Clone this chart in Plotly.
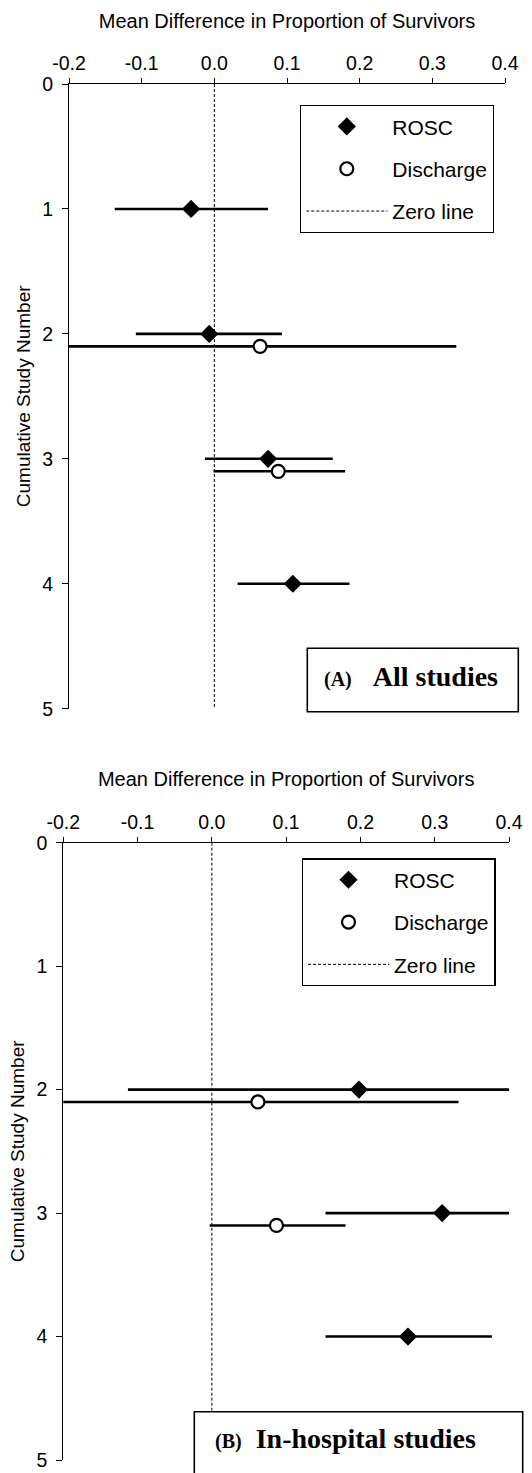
import plotly.graph_objects as go

W, H = 532, 1473

# ---------------- data ----------------
x_tickvals = [-0.2, -0.1, 0.0, 0.1, 0.2, 0.3, 0.4]
x_ticktext = ["-0.2", "-0.1", "0.0", "0.1", "0.2", "0.3", "0.4"]
y_tickvals = [0, 1, 2, 3, 4, 5]

# Panel A: all studies
a_rosc_study = [1, 2, 3, 4]
a_rosc_mean = [-0.032, -0.007, 0.074, 0.108]
a_rosc_lo = [-0.137, -0.108, -0.013, 0.032]
a_rosc_hi = [0.074, 0.093, 0.163, 0.186]

a_dis_study = [2, 3]
a_dis_mean = [0.063, 0.088]
a_dis_lo = [-0.204, -0.001]
a_dis_hi = [0.333, 0.180]

# Panel B: in-hospital studies
b_rosc_study = [2, 3, 4]
b_rosc_mean = [0.198, 0.310, 0.264]
b_rosc_lo = [-0.113, 0.153, 0.153]
b_rosc_hi = [0.42, 0.42, 0.377]

b_dis_study = [2, 3]
b_dis_mean = [0.062, 0.087]
b_dis_lo = [-0.207, -0.003]
b_dis_hi = [0.332, 0.180]

DIS_OFFSET = 0.1  # discharge rows drawn slightly below the study row

SANS = "Liberation Sans, Arial, sans-serif"
SERIF = "Liberation Serif, Times New Roman, serif"


def px(p):
    return p / W


def py(p):
    return 1 - p / H


fig = go.Figure()


def add_panel(xa, ya, leg, rs, rm, rl, rh, ds, dm, dl, dh):
    fig.add_trace(go.Scatter(
        x=rm, y=rs, mode="markers", name="ROSC",
        xaxis=xa, yaxis=ya, legend=leg, legendgroup=leg + "r",
        marker=dict(symbol="diamond", size=14, color="black"),
        error_x=dict(type="data", symmetric=False,
                     array=[h - m for h, m in zip(rh, rm)],
                     arrayminus=[m - l for m, l in zip(rm, rl)],
                     color="black", thickness=2.6, width=0),
    ))
    fig.add_trace(go.Scatter(
        x=dm, y=[s + DIS_OFFSET for s in ds], mode="markers", name="Discharge",
        xaxis=xa, yaxis=ya, legend=leg, legendgroup=leg + "d",
        marker=dict(symbol="circle", size=13, color="white",
                    line=dict(color="black", width=2.2)),
        error_x=dict(type="data", symmetric=False,
                     array=[h - m for h, m in zip(dh, dm)],
                     arrayminus=[m - l for m, l in zip(dm, dl)],
                     color="black", thickness=2.6, width=0),
    ))
    fig.add_trace(go.Scatter(
        x=[0, 0], y=[0, 5], mode="lines", name="Zero line",
        xaxis=xa, yaxis=ya, legend=leg, legendgroup=leg + "z",
        line=dict(color="black", width=1, dash="3px,2px"),
    ))


add_panel("x", "y", "legend", a_rosc_study, a_rosc_mean, a_rosc_lo, a_rosc_hi,
          a_dis_study, a_dis_mean, a_dis_lo, a_dis_hi)
add_panel("x2", "y2", "legend2", b_rosc_study, b_rosc_mean, b_rosc_lo, b_rosc_hi,
          b_dis_study, b_dis_mean, b_dis_lo, b_dis_hi)

xcommon = dict(range=[-0.2, 0.4], tickvals=x_tickvals, ticktext=x_ticktext,
               side="top", ticks="outside", ticklen=5, tickwidth=1.2, tickcolor="black",
               showline=True, linecolor="black", linewidth=1.2,
               showgrid=False, zeroline=False, automargin=False,
               tickfont=dict(family=SANS, size=19.5, color="black"),
               title=dict(text="Mean Difference in Proportion of Survivors",
                          font=dict(family=SANS, size=20, color="black"), standoff=18))
ycommon = dict(range=[5, 0], tickvals=y_tickvals, ticks="outside", ticklen=6,
               tickwidth=1.2, tickcolor="black", ticklabelstandoff=5,
               showline=True, linecolor="black", linewidth=1.2,
               showgrid=False, zeroline=False, automargin=False,
               tickfont=dict(family=SANS, size=19.5, color="black"),
               title=dict(text="Cumulative Study Number",
                          font=dict(family=SANS, size=19, color="black"), standoff=6))

legcommon = dict(bgcolor="white", bordercolor="black", borderwidth=1.3,
                 font=dict(family=SANS, size=21, color="black"),
                 tracegroupgap=12, itemwidth=81, xanchor="left", yanchor="top",
                 traceorder="grouped")

fig.update_layout(
    width=W, height=H, autosize=False,
    margin=dict(l=0, r=0, t=0, b=0),
    paper_bgcolor="white", plot_bgcolor="white",
    showlegend=True,
    xaxis=dict(domain=[px(69), px(505)], anchor="y", **xcommon),
    yaxis=dict(domain=[py(708.7), py(84)], anchor="x", **ycommon),
    xaxis2=dict(domain=[px(63.3), px(509)], anchor="y2", **xcommon),
    yaxis2=dict(domain=[py(1460), py(842.7)], anchor="x2", **ycommon),
    legend=dict(x=px(300), y=py(105), **legcommon),
    legend2=dict(x=px(301.7), y=py(858.3), **legcommon),
    shapes=[
        dict(type="rect", xref="paper", yref="paper",
             x0=px(307.3), x1=px(518.3), y0=py(711.7), y1=py(648.3),
             fillcolor="white", line=dict(color="black", width=1.6)),
        dict(type="rect", xref="paper", yref="paper",
             x0=px(194.3), x1=px(522.7), y0=py(1500), y1=py(1411.7),
             fillcolor="white", line=dict(color="black", width=1.6)),
    ],
    annotations=[
        dict(xref="paper", yref="paper", x=px(411), y=py(677),
             xanchor="center", yanchor="middle", showarrow=False,
             text="<b><span style='font-size:20px'>(A)</span>\u00a0\u00a0\u00a0All studies</b>",
             font=dict(family=SERIF, size=28, color="black")),
        dict(xref="paper", yref="paper", x=px(345), y=py(1438),
             xanchor="center", yanchor="middle", showarrow=False,
             text="<b><span style='font-size:20px'>(B)</span>\u00a0\u00a0In-hospital studies</b>",
             font=dict(family=SERIF, size=28, color="black")),
    ],
)

fig.write_html(
    "out.html",
    config={"displayModeBar": False},
    post_script="document.body.style.margin='0px';document.body.style.overflow='hidden';",
)
